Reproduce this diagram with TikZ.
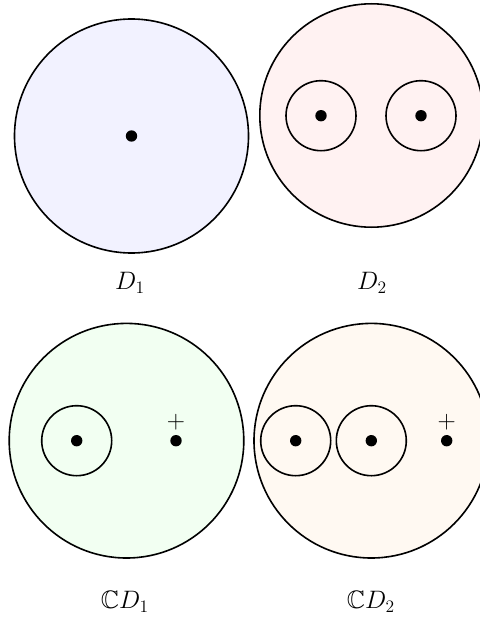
\documentclass[tikz,border=0pt]{standalone}
\usepackage{amssymb}
\begin{document}
\begin{tikzpicture}[x=0.685pt,y=-0.685pt,
  disk/.style={draw=black,line width=1.1pt},
  ring/.style={draw=black,line width=1.1pt},
  dot/.style={circle,fill=black,inner sep=0pt,minimum size=7.8pt},
  plus/.style={inner sep=0pt,font=\LARGE},
  lab/.style={anchor=base,font=\LARGE}]
\useasboundingbox (0,0) rectangle (479,628);
% top-left
\coordinate (c1) at (131.5,136);
\draw[disk,fill=blue!5] (c1) circle (117);
\node[dot] (p1) at (c1) {};
\node[lab] (l1) at (130,289.5) {$D_1$};
% top-right
\coordinate (c2) at (371.5,115.5);
\draw[disk,fill=red!5] (c2) circle (111.7);
\coordinate (r21) at (321,115.7);
\coordinate (r22) at (421,115.7);
\draw[ring] (r21) circle (35);
\draw[ring] (r22) circle (35);
\node[dot] (p21) at (r21) {};
\node[dot] (p22) at (r22) {};
\node[lab] (l2) at (372,289.5) {$D_2$};
% bottom-left
\coordinate (c3) at (126.5,440.7);
\draw[disk,fill=green!5] (c3) circle (117.3);
\coordinate (r31) at (76.7,440.7);
\draw[ring] (r31) circle (35);
\node[dot] (p31) at (r31) {};
\node[dot] (p32) at (176,440.7) {};
\node[plus] (s3) at (176,422.5) {$+$};
\node[lab] (l3) at (125,608.3) {$\mathbb{C}D_1$};
% bottom-right
\coordinate (c4) at (371.3,440.7);
\draw[disk,fill=orange!5] (c4) circle (117.3);
\coordinate (r41) at (295.7,440.7);
\coordinate (r42) at (371.3,440.7);
\draw[ring] (r41) circle (35);
\draw[ring] (r42) circle (35);
\node[dot] (p41) at (r41) {};
\node[dot] (p42) at (r42) {};
\node[dot] (p43) at (446.7,440.7) {};
\node[plus] (s4) at (446.7,422.5) {$+$};
\node[lab] (l4) at (371,608.3) {$\mathbb{C}D_2$};
\end{tikzpicture}
\end{document}
